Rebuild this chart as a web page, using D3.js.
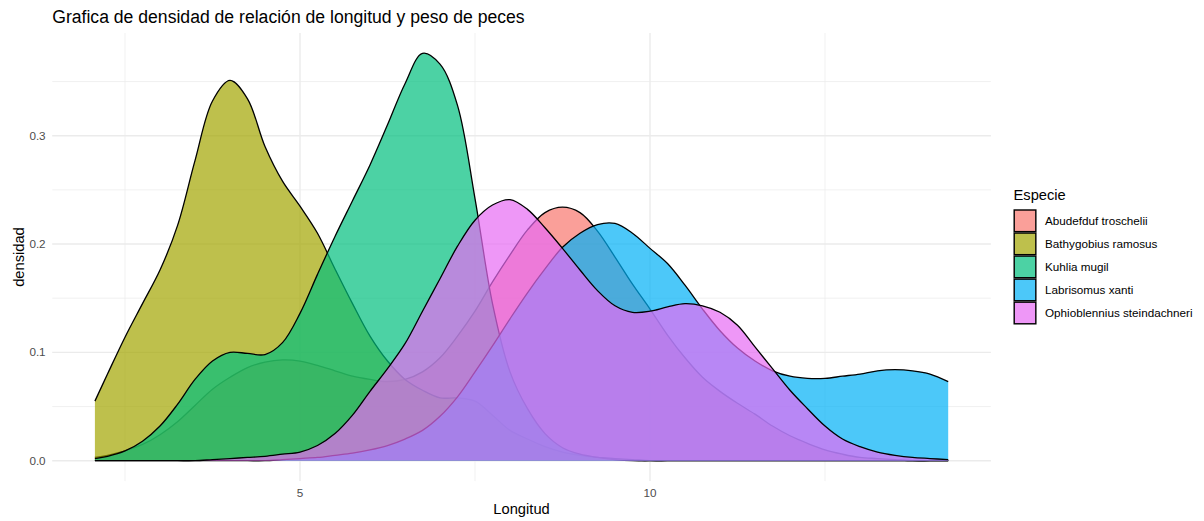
<!DOCTYPE html>
<html>
<head>
<meta charset="utf-8">
<script src="https://cdn.jsdelivr.net/npm/d3@7"></script>
<style>
  body { margin: 0; background: #ffffff; }
  svg { display: block; font-family: "Liberation Sans", Arial, sans-serif; }
</style>
</head>
<body>
<svg id="chart" width="1204" height="521"></svg>
<script>
// ---- data ----
const longitud = [2.07, 2.25, 2.5, 2.75, 3.0, 3.25, 3.5, 3.75, 4.0, 4.25, 4.5, 4.75, 5.0, 5.25, 5.5, 5.75, 6.0, 6.25, 6.5, 6.75, 7.0, 7.25, 7.5, 7.75, 8.0, 8.25, 8.5, 8.75, 9.0, 9.25, 9.5, 9.75, 10.0, 10.25, 10.5, 10.75, 11.0, 11.25, 11.5, 11.75, 12.0, 12.25, 12.5, 12.75, 13.0, 13.25, 13.5, 13.75, 14.0, 14.26];

const abudefduf = [0.003, 0.005, 0.009, 0.015, 0.024, 0.036, 0.051, 0.066, 0.077, 0.086, 0.091, 0.093, 0.092, 0.088, 0.083, 0.078, 0.075, 0.073, 0.075, 0.082, 0.095, 0.115, 0.138, 0.165, 0.19, 0.213, 0.229, 0.234, 0.229, 0.212, 0.188, 0.163, 0.14, 0.116, 0.095, 0.077, 0.064, 0.053, 0.043, 0.032, 0.023, 0.016, 0.01, 0.006, 0.003, 0.002, 0.001, 0, 0, 0];

const bathygobius = [0.055, 0.08, 0.114, 0.145, 0.176, 0.217, 0.277, 0.332, 0.351, 0.334, 0.29, 0.258, 0.235, 0.21, 0.177, 0.145, 0.115, 0.092, 0.075, 0.065, 0.058, 0.058, 0.055, 0.042, 0.028, 0.02, 0.013, 0.008, 0.005, 0.003, 0.002, 0.001, 0, 0, 0, 0, 0, 0, 0, 0, 0, 0, 0, 0, 0, 0, 0, 0, 0, 0];

const kuhlia = [0.002, 0.004, 0.009, 0.018, 0.032, 0.052, 0.075, 0.092, 0.1, 0.099, 0.098, 0.109, 0.136, 0.172, 0.207, 0.24, 0.273, 0.31, 0.348, 0.376, 0.366, 0.328, 0.242, 0.145, 0.082, 0.048, 0.025, 0.012, 0.006, 0.003, 0.001, 0, 0, 0, 0, 0, 0, 0, 0, 0, 0, 0, 0, 0, 0, 0, 0, 0, 0, 0];

const labrisomus = [0, 0, 0, 0, 0, 0, 0, 0, 0, 0, 0, 0.001, 0.002, 0.003, 0.005, 0.007, 0.01, 0.014, 0.02, 0.028, 0.041, 0.059, 0.082, 0.106, 0.131, 0.155, 0.177, 0.197, 0.21, 0.218, 0.219, 0.21, 0.196, 0.182, 0.162, 0.14, 0.12, 0.104, 0.092, 0.083, 0.078, 0.076, 0.076, 0.078, 0.08, 0.083, 0.084, 0.083, 0.08, 0.073];

const ophioblennius = [0, 0, 0, 0, 0, 0, 0, 0.001, 0.002, 0.003, 0.004, 0.006, 0.008, 0.014, 0.025, 0.042, 0.064, 0.085, 0.108, 0.138, 0.168, 0.198, 0.222, 0.236, 0.241, 0.232, 0.215, 0.196, 0.176, 0.157, 0.143, 0.137, 0.138, 0.142, 0.145, 0.143, 0.137, 0.125, 0.105, 0.085, 0.065, 0.048, 0.032, 0.02, 0.013, 0.008, 0.005, 0.003, 0.002, 0.001];

const especies = ["Abudefduf troschelii", "Bathygobius ramosus", "Kuhlia mugil", "Labrisomus xanti", "Ophioblennius steindachneri"];
const seriesValues = [abudefduf, bathygobius, kuhlia, labrisomus, ophioblennius];
const colores = ["#F8766D", "#A3A500", "#00BF7D", "#00B0F6", "#E76BF3"];

const xTicks = [5, 10];
const xMinor = [2.5, 7.5, 12.5];
const yTicks = [0, 0.1, 0.2, 0.3];
const yMinor = [0.05, 0.15, 0.25, 0.35];

const titulo = "Grafica de densidad de relación de longitud y peso de peces";
const xLabel = "Longitud";
const yLabel = "densidad";
const legendTitle = "Especie";

// ---- scales ----
const xExt = d3.extent(longitud);
const xPad = (xExt[1] - xExt[0]) * 0.05;
const x = d3.scaleLinear().domain([5, 10]).range([300, 650]);
const panelLeft = x(xExt[0] - xPad), panelRight = x(xExt[1] + xPad);

const yMax = d3.max(seriesValues.flat());
const y = d3.scaleLinear().domain([0, 0.3]).range([460.7, 135.7]);
const panelBottom = y(-yMax * 0.05), panelTop = y(yMax * 1.05);

const svg = d3.select("#chart");

// ---- grid ----
const grid = svg.append("g");
grid.selectAll("line.ymin").data(yMinor).join("line")
  .attr("x1", panelLeft).attr("x2", panelRight)
  .attr("y1", d => y(d)).attr("y2", d => y(d))
  .attr("stroke", "#EBEBEB").attr("stroke-width", 0.71);
grid.selectAll("line.xmin").data(xMinor).join("line")
  .attr("y1", panelTop).attr("y2", panelBottom)
  .attr("x1", d => x(d)).attr("x2", d => x(d))
  .attr("stroke", "#EBEBEB").attr("stroke-width", 0.71);
grid.selectAll("line.ymaj").data(yTicks).join("line")
  .attr("x1", panelLeft).attr("x2", panelRight)
  .attr("y1", d => y(d)).attr("y2", d => y(d))
  .attr("stroke", "#EBEBEB").attr("stroke-width", 1.42);
grid.selectAll("line.xmaj").data(xTicks).join("line")
  .attr("y1", panelTop).attr("y2", panelBottom)
  .attr("x1", d => x(d)).attr("x2", d => x(d))
  .attr("stroke", "#EBEBEB").attr("stroke-width", 1.42);

// ---- densities ----
const curve = d3.curveCatmullRom.alpha(0.5);
const area = d3.area()
  .x(d => x(d[0])).y0(y(0)).y1(d => y(d[1]))
  .curve(curve);
const line = d3.line()
  .x(d => x(d[0])).y(d => y(d[1]))
  .curve(curve);

const gDens = svg.append("g");
seriesValues.forEach((vals, i) => {
  const pts = longitud.map((lx, j) => [lx, vals[j]]);
  gDens.append("path").attr("d", area(pts))
    .attr("fill", colores[i]).attr("fill-opacity", 0.7).attr("stroke", "none");
  gDens.append("path").attr("d", line(pts))
    .attr("fill", "none").attr("stroke", "#000").attr("stroke-width", 1.3)
    .attr("stroke-linejoin", "round");
});

// ---- axes text ----
const axG = svg.append("g");
axG.selectAll("text.yt").data(yTicks).join("text")
  .attr("x", panelLeft - 6.6).attr("y", d => y(d)).attr("dy", "0.35em")
  .attr("text-anchor", "end").attr("font-size", "11.7px").attr("fill", "#4D4D4D")
  .text(d => d3.format(".1f")(d));
axG.selectAll("text.xt").data(xTicks).join("text")
  .attr("x", d => x(d)).attr("y", panelBottom + 16.2)
  .attr("text-anchor", "middle").attr("font-size", "11.7px").attr("fill", "#4D4D4D")
  .text(d => d);

svg.append("text").attr("x", (panelLeft + panelRight) / 2).attr("y", 514)
  .attr("text-anchor", "middle").attr("font-size", "14.7px").attr("fill", "#000")
  .text(xLabel);
svg.append("text")
  .attr("transform", `translate(23.5,${(panelTop + panelBottom) / 2}) rotate(-90)`)
  .attr("text-anchor", "middle").attr("font-size", "14.7px").attr("fill", "#000")
  .text(yLabel);

svg.append("text").attr("x", panelLeft).attr("y", 23)
  .attr("font-size", "17.6px").attr("fill", "#000").text(titulo);

// ---- legend ----
const leg = svg.append("g").attr("transform", "translate(1013.5,0)");
leg.append("text").attr("x", 0).attr("y", 199.5)
  .attr("font-size", "14.7px").attr("fill", "#000").text(legendTitle);
const keySize = 23.04, keyTop = 209.3;
const items = leg.selectAll("g.item").data(especies).join("g")
  .attr("transform", (d, i) => `translate(0,${keyTop + i * keySize})`);
items.append("rect")
  .attr("x", 0.7).attr("y", 0.7).attr("width", keySize - 1.4).attr("height", keySize - 1.4)
  .attr("fill", (d, i) => colores[i]).attr("fill-opacity", 0.7)
  .attr("stroke", "#000").attr("stroke-width", 1.42);
items.append("text").attr("x", 31.5).attr("y", keySize / 2).attr("dy", "0.35em")
  .attr("font-size", "11.7px").attr("fill", "#000").text(d => d);
</script>
</body>
</html>
